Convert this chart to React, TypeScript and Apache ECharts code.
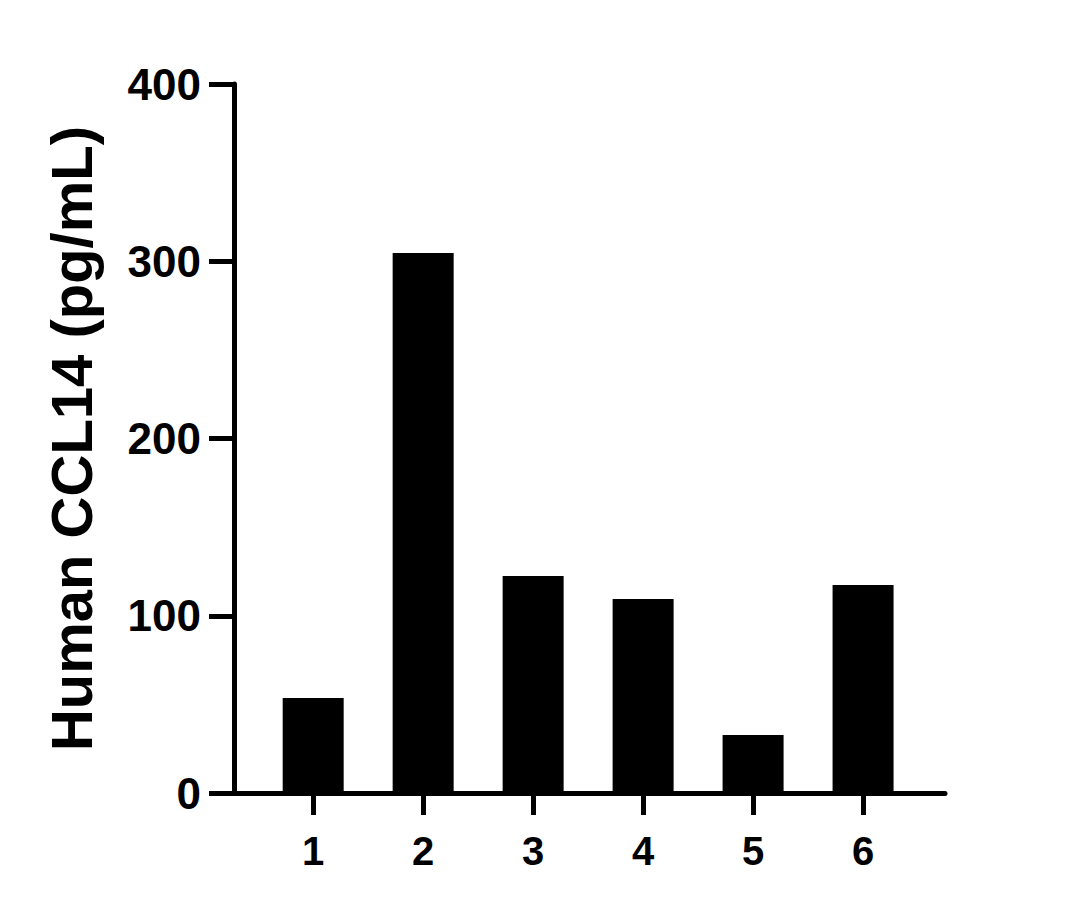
import { useEffect, useRef } from "react";
import * as echarts from "echarts";

const categories = [1, 2, 3, 4, 5, 6];
const values = [53.6, 304.7, 122.4, 109.4, 32.7, 117.3];
const yTicks = [0, 100, 200, 300, 400];

const FONT = "'Liberation Sans', Arial, sans-serif";

export default function App() {
    const chartRef = useRef<HTMLDivElement>(null);

    useEffect(() => {
        document.body.style.margin = "0";
        if (!chartRef.current) return;
        const chart = echarts.init(chartRef.current, undefined, { renderer: "svg" });

        const options: echarts.EChartsOption = {
            animation: false,
            backgroundColor: "#fff",
            grid: { left: 234, right: 136, top: 84, bottom: 116 },
            xAxis: {
                type: "value",
                min: 0.28,
                max: 6.745,
                splitLine: { show: false },
                axisLine: { show: true, lineStyle: { color: "#000", width: 5 } },
                axisTick: {
                    show: true,
                    length: 22,
                    customValues: categories,
                    lineStyle: { color: "#000", width: 5 },
                },
                axisLabel: {
                    customValues: categories,
                    margin: 38,
                    color: "#000",
                    fontFamily: FONT,
                    fontWeight: "bold",
                    fontSize: 40,
                },
            },
            yAxis: {
                type: "value",
                min: 0,
                max: 400,
                interval: 100,
                name: "Human CCL14 (pg/mL)",
                nameLocation: "middle",
                nameGap: 134,
                nameTextStyle: {
                    color: "#000",
                    fontFamily: FONT,
                    fontWeight: "bold",
                    fontSize: 58,
                },
                splitLine: { show: false },
                axisLine: { show: true, lineStyle: { color: "#000", width: 5 } },
                axisTick: {
                    show: true,
                    length: 25,
                    customValues: yTicks,
                    lineStyle: { color: "#000", width: 5 },
                },
                axisLabel: {
                    margin: 33,
                    color: "#000",
                    fontFamily: FONT,
                    fontWeight: "bold",
                    fontSize: 44,
                },
            },
            series: [
                {
                    type: "bar",
                    data: categories.map((c, i) => [c, values[i]]),
                    barWidth: 61,
                    itemStyle: { color: "#000" },
                },
            ],
            tooltip: { show: false },
        };

        chart.setOption(options);
        return () => {
            chart.dispose();
        };
    }, []);

    return <div ref={chartRef} style={{ width: "1081px", height: "909px" }} />;
}
